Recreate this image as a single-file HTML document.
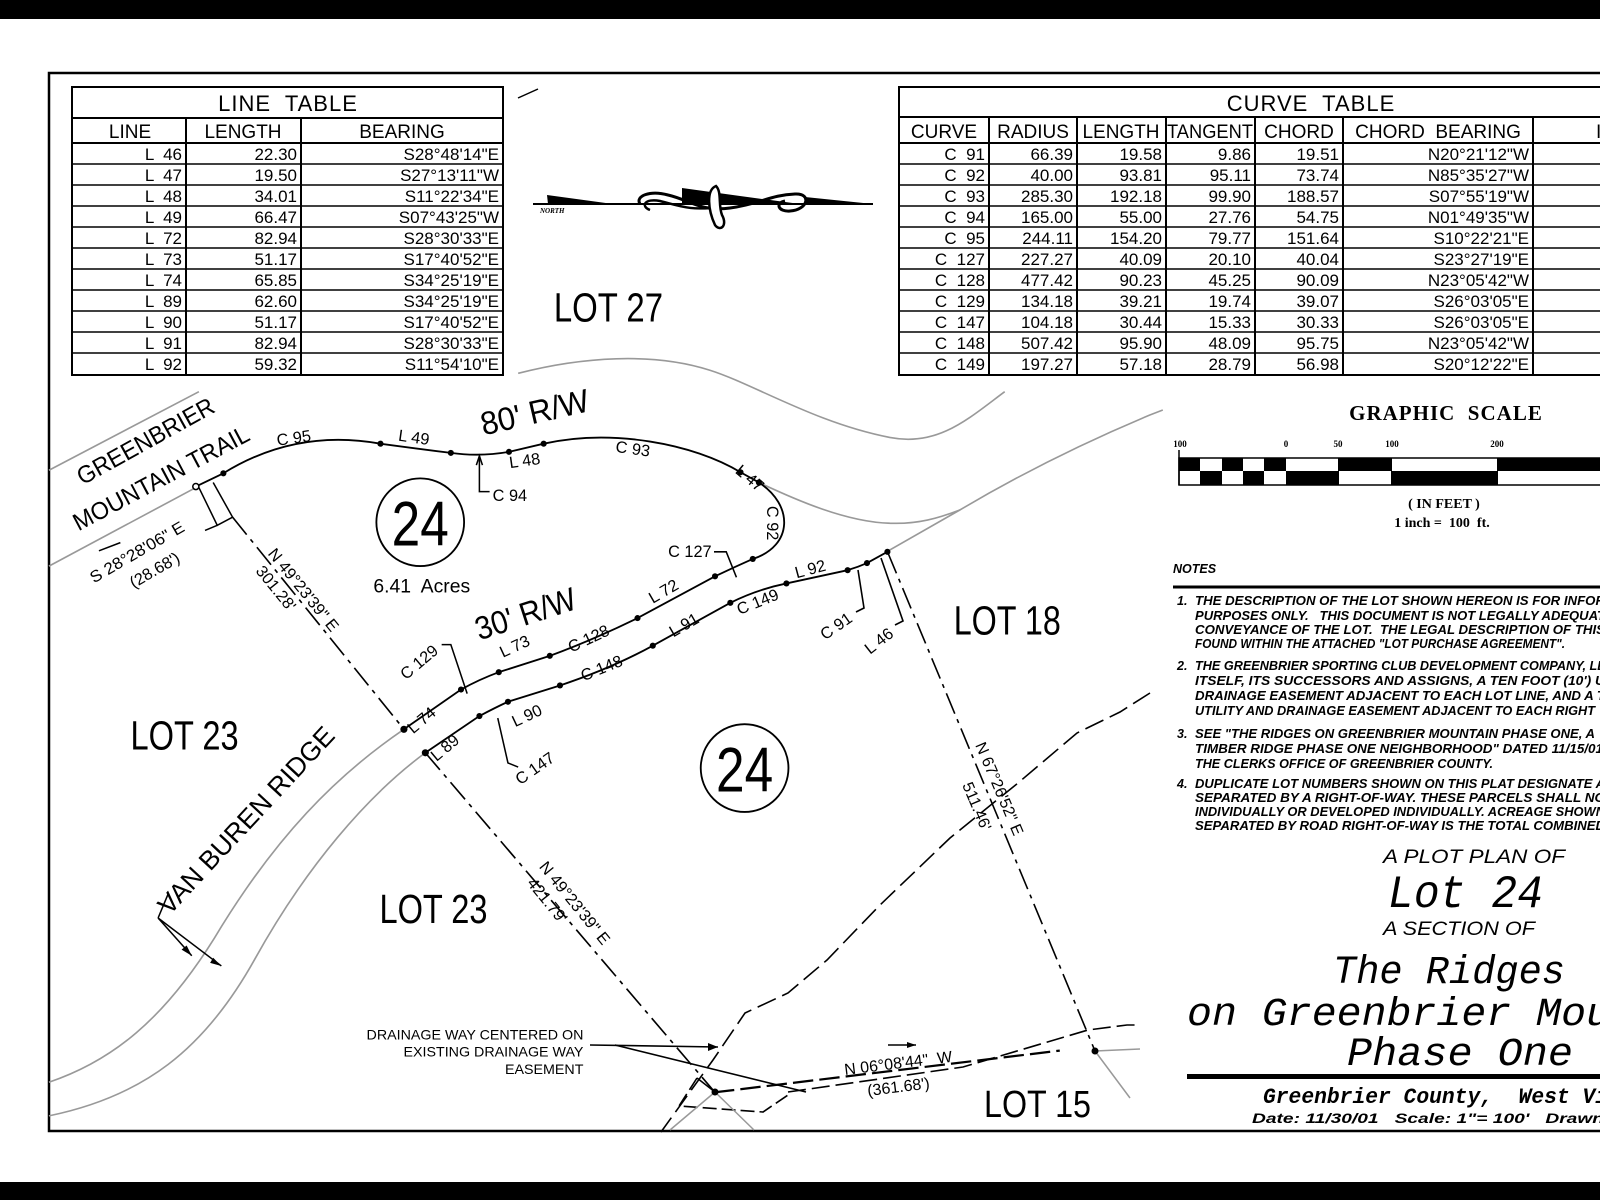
<!DOCTYPE html>
<html><head><meta charset="utf-8"><style>
html,body{margin:0;padding:0;background:#fff;}
svg{display:block;}
text{white-space:pre;}
.c{font-family:"Liberation Sans Narrow","Liberation Sans",sans-serif;fill:#000;}
.t{font-family:"Liberation Sans Narrow","Liberation Sans",sans-serif;font-size:17px;fill:#000;}
.n{font-family:"Liberation Sans",sans-serif;font-weight:bold;font-style:italic;font-size:12.5px;fill:#000;}
.m{font-family:"Liberation Mono",monospace;font-style:italic;fill:#000;}
</style></head><body>
<svg width="1600" height="1200" viewBox="0 0 1600 1200" xmlns="http://www.w3.org/2000/svg">
<rect width="1600" height="1200" fill="#fff"/>
<rect x="0" y="0" width="1600" height="19" fill="#000"/>
<rect x="0" y="1182" width="1600" height="18" fill="#000"/>
<path d="M1605,73 H49 V1131 H1605" fill="none" stroke="#000" stroke-width="2.5"/>

<!-- LINE TABLE -->
<g fill="none" stroke="#000" stroke-width="2">
<rect x="72" y="87" width="431" height="288"/>
<line x1="72" y1="118" x2="503" y2="118"/>
<line x1="72" y1="143" x2="503" y2="143"/>
<line x1="186" y1="118" x2="186" y2="375"/>
<line x1="301" y1="118" x2="301" y2="375"/>
<g stroke-width="1.5">
<line x1="72" y1="164" x2="503" y2="164"/><line x1="72" y1="185" x2="503" y2="185"/>
<line x1="72" y1="206" x2="503" y2="206"/><line x1="72" y1="227" x2="503" y2="227"/>
<line x1="72" y1="248" x2="503" y2="248"/><line x1="72" y1="269" x2="503" y2="269"/>
<line x1="72" y1="290" x2="503" y2="290"/><line x1="72" y1="311" x2="503" y2="311"/>
<line x1="72" y1="332" x2="503" y2="332"/><line x1="72" y1="353" x2="503" y2="353"/>
</g></g>
<g class="t">
<text x="288" y="111" font-size="22" text-anchor="middle" letter-spacing="1">LINE  TABLE</text>
<text x="130" y="138" font-size="19" text-anchor="middle">LINE</text>
<text x="243" y="138" font-size="19" text-anchor="middle">LENGTH</text>
<text x="402" y="138" font-size="19" text-anchor="middle">BEARING</text>
<g text-anchor="end">
<text x="182" y="160">L  46</text><text x="297" y="160">22.30</text><text x="499" y="160">S28°48'14"E</text>
<text x="182" y="181">L  47</text><text x="297" y="181">19.50</text><text x="499" y="181">S27°13'11"W</text>
<text x="182" y="202">L  48</text><text x="297" y="202">34.01</text><text x="499" y="202">S11°22'34"E</text>
<text x="182" y="223">L  49</text><text x="297" y="223">66.47</text><text x="499" y="223">S07°43'25"W</text>
<text x="182" y="244">L  72</text><text x="297" y="244">82.94</text><text x="499" y="244">S28°30'33"E</text>
<text x="182" y="265">L  73</text><text x="297" y="265">51.17</text><text x="499" y="265">S17°40'52"E</text>
<text x="182" y="286">L  74</text><text x="297" y="286">65.85</text><text x="499" y="286">S34°25'19"E</text>
<text x="182" y="307">L  89</text><text x="297" y="307">62.60</text><text x="499" y="307">S34°25'19"E</text>
<text x="182" y="328">L  90</text><text x="297" y="328">51.17</text><text x="499" y="328">S17°40'52"E</text>
<text x="182" y="349">L  91</text><text x="297" y="349">82.94</text><text x="499" y="349">S28°30'33"E</text>
<text x="182" y="370">L  92</text><text x="297" y="370">59.32</text><text x="499" y="370">S11°54'10"E</text>
</g></g>

<!-- CURVE TABLE -->
<g fill="none" stroke="#000" stroke-width="2">
<rect x="899" y="87" width="720" height="288"/>
<line x1="899" y1="117" x2="1610" y2="117"/>
<line x1="899" y1="143" x2="1610" y2="143"/>
<line x1="989" y1="117" x2="989" y2="375"/><line x1="1077" y1="117" x2="1077" y2="375"/>
<line x1="1166" y1="117" x2="1166" y2="375"/><line x1="1255" y1="117" x2="1255" y2="375"/>
<line x1="1343" y1="117" x2="1343" y2="375"/><line x1="1533" y1="117" x2="1533" y2="375"/>
<g stroke-width="1.5">
<line x1="899" y1="164" x2="1610" y2="164"/><line x1="899" y1="185" x2="1610" y2="185"/>
<line x1="899" y1="206" x2="1610" y2="206"/><line x1="899" y1="227" x2="1610" y2="227"/>
<line x1="899" y1="248" x2="1610" y2="248"/><line x1="899" y1="269" x2="1610" y2="269"/>
<line x1="899" y1="290" x2="1610" y2="290"/><line x1="899" y1="311" x2="1610" y2="311"/>
<line x1="899" y1="332" x2="1610" y2="332"/><line x1="899" y1="353" x2="1610" y2="353"/>
</g></g>
<g class="t">
<text x="1311" y="111" font-size="22" text-anchor="middle" letter-spacing="1">CURVE  TABLE</text>
<text x="944" y="138" font-size="19" text-anchor="middle">CURVE</text>
<text x="1033" y="138" font-size="19" text-anchor="middle">RADIUS</text>
<text x="1121" y="138" font-size="19" text-anchor="middle">LENGTH</text>
<text x="1210" y="138" font-size="19" text-anchor="middle" textLength="86" lengthAdjust="spacingAndGlyphs">TANGENT</text>
<text x="1299" y="138" font-size="19" text-anchor="middle">CHORD</text>
<text x="1438" y="138" font-size="19" text-anchor="middle">CHORD  BEARING</text>
<text x="1596" y="138" font-size="19">I</text>
<g text-anchor="end">
<text x="985" y="160">C  91</text><text x="1073" y="160">66.39</text><text x="1162" y="160">19.58</text><text x="1251" y="160">9.86</text><text x="1339" y="160">19.51</text><text x="1529" y="160">N20°21'12"W</text>
<text x="985" y="181">C  92</text><text x="1073" y="181">40.00</text><text x="1162" y="181">93.81</text><text x="1251" y="181">95.11</text><text x="1339" y="181">73.74</text><text x="1529" y="181">N85°35'27"W</text>
<text x="985" y="202">C  93</text><text x="1073" y="202">285.30</text><text x="1162" y="202">192.18</text><text x="1251" y="202">99.90</text><text x="1339" y="202">188.57</text><text x="1529" y="202">S07°55'19"W</text>
<text x="985" y="223">C  94</text><text x="1073" y="223">165.00</text><text x="1162" y="223">55.00</text><text x="1251" y="223">27.76</text><text x="1339" y="223">54.75</text><text x="1529" y="223">N01°49'35"W</text>
<text x="985" y="244">C  95</text><text x="1073" y="244">244.11</text><text x="1162" y="244">154.20</text><text x="1251" y="244">79.77</text><text x="1339" y="244">151.64</text><text x="1529" y="244">S10°22'21"E</text>
<text x="985" y="265">C  127</text><text x="1073" y="265">227.27</text><text x="1162" y="265">40.09</text><text x="1251" y="265">20.10</text><text x="1339" y="265">40.04</text><text x="1529" y="265">S23°27'19"E</text>
<text x="985" y="286">C  128</text><text x="1073" y="286">477.42</text><text x="1162" y="286">90.23</text><text x="1251" y="286">45.25</text><text x="1339" y="286">90.09</text><text x="1529" y="286">N23°05'42"W</text>
<text x="985" y="307">C  129</text><text x="1073" y="307">134.18</text><text x="1162" y="307">39.21</text><text x="1251" y="307">19.74</text><text x="1339" y="307">39.07</text><text x="1529" y="307">S26°03'05"E</text>
<text x="985" y="328">C  147</text><text x="1073" y="328">104.18</text><text x="1162" y="328">30.44</text><text x="1251" y="328">15.33</text><text x="1339" y="328">30.33</text><text x="1529" y="328">S26°03'05"E</text>
<text x="985" y="349">C  148</text><text x="1073" y="349">507.42</text><text x="1162" y="349">95.90</text><text x="1251" y="349">48.09</text><text x="1339" y="349">95.75</text><text x="1529" y="349">N23°05'42"W</text>
<text x="985" y="370">C  149</text><text x="1073" y="370">197.27</text><text x="1162" y="370">57.18</text><text x="1251" y="370">28.79</text><text x="1339" y="370">56.98</text><text x="1529" y="370">S20°12'22"E</text>
</g></g>

<!-- north arrow -->
<g>
<line x1="518" y1="98" x2="538" y2="89" stroke="#000" stroke-width="1.5"/>
<line x1="533" y1="204" x2="873" y2="204" stroke="#000" stroke-width="2"/>
<path d="M547,195 L548,204 L613,204 Z" fill="#000"/>
<path d="M682,188 L682,204 L800,204 L740,196 Z" fill="#000"/>
<path d="M805,197 L873,204 L805,205 Z" fill="#000"/>
<text x="540" y="213" font-family="Liberation Serif,serif" font-weight="bold" font-style="italic" font-size="7">NORTH</text>
<path d="M640,204 C635,196 650,190 668,195 C690,200 700,212 730,208 C760,204 770,195 795,194 C812,193 808,210 790,211 C778,212 775,203 785,201" fill="none" stroke="#000" stroke-width="3"/>
<path d="M650,210 C640,206 645,198 660,201 C680,206 690,211 720,207" fill="none" stroke="#000" stroke-width="2.5"/>
<path d="M716,186 C706,190 708,210 715,225 C720,232 728,226 722,215 C718,205 722,192 716,186 Z" fill="#fff" stroke="#000" stroke-width="2.5"/>
</g>

<g transform="scale(1.02)">
<g fill="none" stroke="#999" stroke-width="1.6">
<path d="M48,461 L195,384"/>
<path d="M48,555 L192,478"/>
<path d="M508,366 C570,350 640,345 696,363 C740,377 800,415 873,429 C920,438 950,410 985,384"/>
<path d="M744,473 C780,490 830,512 873,513 C900,514 920,508 941,500"/>
<path d="M871,540 L941,500 C1000,465 1060,435 1127,407 L1140,402"/>
<path d="M396,715 C330,760 270,820 210,920 C160,1000 110,1040 48,1061"/>
<path d="M417,738 C360,780 300,850 250,940 C200,1030 140,1075 48,1094"/>
</g>
<g fill="none" stroke="#000" stroke-width="1.8">
<path d="M192,477 L219,464 Q290,420 373,435 Q410,440 442,444 Q470,448 499,443 L533,435 C600,420 680,435 726,463 L744,473 C778,495 778,535 738,548 Q720,556 701,565 L625,606 Q580,628 539,643 L489,659 Q470,666 452,676 L396,715"/>
<path d="M417,738 L470,702 Q485,694 498,688 L549,672 Q600,655 640,633 L716,591 Q742,578 771,572 L831,559 Q841,556 850,552 L870,541"/>
</g>
<g fill="#000">
<circle cx="219" cy="464" r="3"/><circle cx="373" cy="435" r="3"/><circle cx="442" cy="444" r="3"/><circle cx="499" cy="443" r="3"/><circle cx="533" cy="435" r="3"/><circle cx="726" cy="463" r="3"/><circle cx="744" cy="473" r="3"/><circle cx="738" cy="548" r="3"/><circle cx="701" cy="565" r="3"/><circle cx="625" cy="606" r="3"/><circle cx="539" cy="643" r="3"/><circle cx="489" cy="659" r="3"/><circle cx="452" cy="676" r="3"/><circle cx="396" cy="715" r="3.5"/>
<circle cx="417" cy="738" r="3.5"/><circle cx="470" cy="702" r="3"/><circle cx="498" cy="688" r="3"/><circle cx="549" cy="672" r="3"/><circle cx="640" cy="633" r="3"/><circle cx="716" cy="591" r="3"/><circle cx="771" cy="572" r="3"/><circle cx="831" cy="559" r="3"/><circle cx="850" cy="552" r="3"/><circle cx="870" cy="541" r="3"/>
</g>
<circle cx="192" cy="477" r="3" fill="#fff" stroke="#000" stroke-width="1.5"/>
<path d="M228,507 L396,715 M417,738 L701,1071" fill="none" stroke="#000" stroke-width="1.6" stroke-dasharray="22 6 4 6"/>
<g fill="none" stroke="#000" stroke-width="1.5">
<path d="M195,478 L213,515 L228,507 L209,473"/>
<path d="M213,515 L201,520"/>
<path d="M470,447 L470,482 L480,482"/><path d="M467,456 L470,447 L473,456"/>
<path d="M700,541 L712,541 L722,566"/>
<path d="M433,632 L442,632 L458,680"/>
<path d="M488,704 L498,748 L508,752"/>
<path d="M155,900 L165,876"/>
<path d="M155,900 L188,937"/><path d="M155,900 L217,947"/>
<path d="M97,540 L118,532"/>
<path d="M700,1071 L1039,1030" stroke-width="2.2" stroke-dasharray="20 6"/>
</g>
<path d="M188,937 L178,931 L183,927 Z M217,947 L206,944 L209,939 Z" fill="#000"/>
<g class="c">
<text x="543" y="315" font-size="40" textLength="107" lengthAdjust="spacingAndGlyphs">LOT 27</text>
<text x="935" y="622" font-size="40" textLength="105" lengthAdjust="spacingAndGlyphs">LOT 18</text>
<text x="128" y="735" font-size="40" textLength="106" lengthAdjust="spacingAndGlyphs">LOT 23</text>
<text x="372" y="905" font-size="40" textLength="106" lengthAdjust="spacingAndGlyphs">LOT 23</text>
<text transform="translate(474,427) rotate(-13)" font-size="32" textLength="108" lengthAdjust="spacingAndGlyphs">80' R/W</text>
<text transform="translate(470,628) rotate(-18)" font-size="32" textLength="102" lengthAdjust="spacingAndGlyphs">30' R/W</text>
<text transform="translate(81,476) rotate(-29)" font-size="24" textLength="150" lengthAdjust="spacingAndGlyphs">GREENBRIER</text>
<text transform="translate(77,521) rotate(-28)" font-size="24" textLength="192" lengthAdjust="spacingAndGlyphs">MOUNTAIN TRAIL</text>
<text transform="translate(166,898) rotate(-47)" font-size="26" textLength="240" lengthAdjust="spacingAndGlyphs">VAN BUREN RIDGE</text>
<circle cx="412" cy="512" r="43" fill="none" stroke="#000" stroke-width="1.8"/>
<text x="412" y="535" font-size="62" text-anchor="middle" textLength="56" lengthAdjust="spacingAndGlyphs">24</text>
<text x="366" y="581" font-size="19" font-family="Liberation Sans,sans-serif">6.41  Acres</text>
<circle cx="730" cy="753" r="43" fill="none" stroke="#000" stroke-width="1.8"/>
<text x="730" y="776" font-size="62" text-anchor="middle" textLength="56" lengthAdjust="spacingAndGlyphs">24</text>
<g font-size="16" font-family="Liberation Sans,sans-serif">
<text transform="translate(272,437) rotate(-8)">C 95</text>
<text transform="translate(390,432) rotate(8)">L 49</text>
<text transform="translate(500,459) rotate(-8)">L 48</text>
<text x="483" y="491">C 94</text>
<text transform="translate(603,443) rotate(8)">C 93</text>
<text transform="translate(720,463) rotate(40)">L 47</text>
<text transform="translate(752,496) rotate(90)">C 92</text>
<text x="655" y="546">C 127</text>
<text transform="translate(640,592) rotate(-30)">L 72</text>
<text transform="translate(781,567) rotate(-15)">L 92</text>
<text transform="translate(725,603) rotate(-22)">C 149</text>
<text transform="translate(660,625) rotate(-30)">L 91</text>
<text transform="translate(560,640) rotate(-25)">C 128</text>
<text transform="translate(572,668) rotate(-22)">C 148</text>
<text transform="translate(398,667) rotate(-40)">C 129</text>
<text transform="translate(493,645) rotate(-25)">L 73</text>
<text transform="translate(505,713) rotate(-25)">L 90</text>
<text transform="translate(405,720) rotate(-40)">L 74</text>
<text transform="translate(428,747) rotate(-40)">L 89</text>
<text transform="translate(510,770) rotate(-35)">C 147</text>
<text transform="translate(809,628) rotate(-35)">C 91</text>
<text transform="translate(853,642) rotate(-38)">L 46</text>
<text transform="translate(92,572) rotate(-30)" textLength="104" lengthAdjust="spacingAndGlyphs">S 28°28'06" E</text>
<text transform="translate(131,577) rotate(-30)">(28.68')</text>
<text transform="translate(262,543) rotate(51)">N 49°23'39" E</text>
<text transform="translate(250,560) rotate(51)">301.28'</text>
<text transform="translate(528,850) rotate(51)">N 49°23'39" E</text>
<text transform="translate(516,866) rotate(51)">421.79'</text>
</g>
<g font-family="Liberation Sans,sans-serif" font-size="14" text-anchor="end">
<text x="572" y="1019">DRAINAGE WAY CENTERED ON</text>
<text x="572" y="1036">EXISTING DRAINAGE WAY</text>
<text x="572" y="1053">EASEMENT</text>
</g>
</g>
</g>

<g fill="none" stroke="#000" stroke-width="1.6">
<path d="M888,553 L1095,1051" stroke-dasharray="22 6 4 6"/>
<path d="M1150,693 L1120,712 L1077,733 L1018,783 L950,838 L880,905 L827,960 L788,993 L745,1013 L713,1060 L661,1132" stroke-dasharray="20 7"/>
<path d="M881,558 L903,621 L895,625"/>
<path d="M858,570 L864,608 L856,612"/>
<path d="M590,1045 L718,1047"/>
<path d="M615,1045 L806,1092"/>
<path d="M697,1078 L679,1106 L763,1112 L788,1095" stroke-dasharray="14 5"/>
<path d="M788,1092 L963,1067 L1088,1030 L1127,1025 L1140,1025" stroke-dasharray="18 6"/>
<path d="M888,1045 L916,1045"/>
<path d="M697,1078 L715,1092"/>
</g>
<path d="M718,1047 L708,1043 L708,1051 Z M916,1045 L907,1042 L907,1048 Z" fill="#000"/>
<g fill="none" stroke="#999" stroke-width="1.5">
<path d="M715,1092 L670,1130 M715,1092 L754,1130 M1095,1051 L1140,1049 M1095,1051 L1130,1098"/>
</g>
<circle cx="715" cy="1092" r="3.5" fill="#000"/>
<circle cx="1095" cy="1051" r="3.5" fill="#000"/>
<g class="c" font-size="16" font-family="Liberation Sans,sans-serif">
<text transform="translate(845,1075) rotate(-7)">N 06°08'44"  W</text>
<text transform="translate(868,1096) rotate(-7)">(361.68')</text>
<text transform="translate(975,745) rotate(67)">N 67°26'52" E</text>
<text transform="translate(962,785) rotate(67)">511.46'</text>
</g>
<text x="984" y="1117" class="c" font-size="38" textLength="107" lengthAdjust="spacingAndGlyphs">LOT 15</text>

<text x="1446" y="420" font-family="Liberation Serif,serif" font-weight="bold" font-size="21" text-anchor="middle" letter-spacing="1">GRAPHIC  SCALE</text>
<g font-family="Liberation Serif,serif" font-weight="bold" font-size="9" text-anchor="middle">
<text x="1180" y="447">100</text><text x="1286" y="447">0</text><text x="1338" y="447">50</text><text x="1392" y="447">100</text><text x="1497" y="447">200</text>
</g>
<g>
<rect x="1179" y="458" width="440" height="27" fill="#fff" stroke="#000" stroke-width="1.5"/>
<g fill="#000">
<rect x="1179" y="458" width="21" height="13"/><rect x="1222" y="458" width="21" height="13"/><rect x="1264" y="458" width="22" height="13"/>
<rect x="1338" y="458" width="54" height="13"/><rect x="1497" y="458" width="120" height="13"/>
<rect x="1200" y="471" width="22" height="14"/><rect x="1243" y="471" width="21" height="14"/><rect x="1286" y="471" width="53" height="14"/>
<rect x="1391" y="471" width="107" height="14"/>
</g>
<line x1="1179" y1="450" x2="1179" y2="485" stroke="#000" stroke-width="1.5"/>
</g>
<text x="1444" y="508" font-family="Liberation Serif,serif" font-weight="bold" font-size="14" text-anchor="middle">( IN FEET )</text>
<text x="1442" y="527" font-family="Liberation Serif,serif" font-weight="bold" font-size="14" text-anchor="middle">1 inch =  100  ft.</text>
<text x="1173" y="573" class="n" font-size="13">NOTES</text>
<line x1="1173" y1="587" x2="1605" y2="587" stroke="#000" stroke-width="3"/>
<g class="n">
<text x="1177" y="605">1.</text>
<text x="1195" y="605" textLength="410" lengthAdjust="spacingAndGlyphs">THE DESCRIPTION OF THE LOT SHOWN HEREON IS FOR INFOR</text>
<text x="1195" y="620" textLength="410" lengthAdjust="spacingAndGlyphs">PURPOSES ONLY.   THIS DOCUMENT IS NOT LEGALLY ADEQUAT</text>
<text x="1195" y="634" textLength="410" lengthAdjust="spacingAndGlyphs">CONVEYANCE OF THE LOT.  THE LEGAL DESCRIPTION OF THIS</text>
<text x="1195" y="648" textLength="370" lengthAdjust="spacingAndGlyphs">FOUND WITHIN THE ATTACHED "LOT PURCHASE AGREEMENT".</text>
<text x="1177" y="670">2.</text>
<text x="1195" y="670" textLength="410" lengthAdjust="spacingAndGlyphs">THE GREENBRIER SPORTING CLUB DEVELOPMENT COMPANY, LL</text>
<text x="1195" y="685" textLength="410" lengthAdjust="spacingAndGlyphs">ITSELF, ITS SUCCESSORS AND ASSIGNS, A TEN FOOT (10') U</text>
<text x="1195" y="700" textLength="410" lengthAdjust="spacingAndGlyphs">DRAINAGE EASEMENT ADJACENT TO EACH LOT LINE, AND A T</text>
<text x="1195" y="715" textLength="400" lengthAdjust="spacingAndGlyphs">UTILITY AND DRAINAGE EASEMENT ADJACENT TO EACH RIGHT</text>
<text x="1177" y="738">3.</text>
<text x="1195" y="738" textLength="400" lengthAdjust="spacingAndGlyphs">SEE "THE RIDGES ON GREENBRIER MOUNTAIN PHASE ONE, A</text>
<text x="1195" y="753" textLength="408" lengthAdjust="spacingAndGlyphs">TIMBER RIDGE PHASE ONE NEIGHBORHOOD" DATED 11/15/01</text>
<text x="1195" y="768" textLength="298" lengthAdjust="spacingAndGlyphs">THE CLERKS OFFICE OF GREENBRIER COUNTY.</text>
<text x="1177" y="788">4.</text>
<text x="1195" y="788" textLength="410" lengthAdjust="spacingAndGlyphs">DUPLICATE LOT NUMBERS SHOWN ON THIS PLAT DESIGNATE A</text>
<text x="1195" y="802" textLength="410" lengthAdjust="spacingAndGlyphs">SEPARATED BY A RIGHT-OF-WAY. THESE PARCELS SHALL NO</text>
<text x="1195" y="816" textLength="410" lengthAdjust="spacingAndGlyphs">INDIVIDUALLY OR DEVELOPED INDIVIDUALLY. ACREAGE SHOWN</text>
<text x="1195" y="830" textLength="410" lengthAdjust="spacingAndGlyphs">SEPARATED BY ROAD RIGHT-OF-WAY IS THE TOTAL COMBINED</text>
</g>
<text x="1383" y="863" font-family="Liberation Sans,sans-serif" font-style="italic" font-size="19" textLength="182" lengthAdjust="spacingAndGlyphs">A PLOT PLAN OF</text>
<text x="1388" y="907" class="m" font-size="46" textLength="155" lengthAdjust="spacingAndGlyphs">Lot 24</text>
<text x="1383" y="935" font-family="Liberation Sans,sans-serif" font-style="italic" font-size="19" textLength="152" lengthAdjust="spacingAndGlyphs">A SECTION OF</text>
<text x="1333" y="983" class="m" font-size="40" textLength="232" lengthAdjust="spacingAndGlyphs">The Ridges</text>
<text x="1187" y="1025" class="m" font-size="40" textLength="424" lengthAdjust="spacingAndGlyphs">on Greenbrier Mou</text>
<text x="1347" y="1065" class="m" font-size="40" textLength="226" lengthAdjust="spacingAndGlyphs">Phase One</text>
<rect x="1187" y="1074" width="420" height="5" fill="#000"/>
<text x="1263" y="1103" class="m" font-weight="bold" font-size="22" textLength="345" lengthAdjust="spacingAndGlyphs">Greenbrier County,  West Vi</text>
<text x="1252" y="1123" font-family="Liberation Sans,sans-serif" font-weight="bold" font-style="italic" font-size="14" textLength="352" lengthAdjust="spacingAndGlyphs">Date: 11/30/01   Scale: 1"= 100'   Drawn</text>
</svg>
</body></html>
